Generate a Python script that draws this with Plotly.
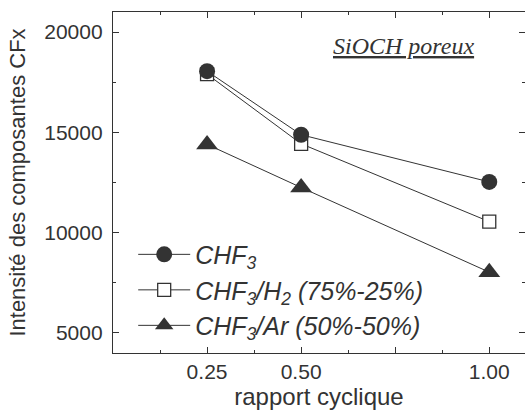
import plotly.graph_objects as go

# duty cycle (x) and CFx intensity for each gas mixture
rapport = [0.25, 0.50, 1.00]
chf3 = [18050, 14880, 12530]
chf3_h2 = [17900, 14430, 10550]
chf3_ar = [14400, 12250, 8030]

names = ["<i>CHF<sub>3</sub></i>",
         "<i>CHF<sub>3</sub>/H<sub>2</sub> (75%-25%)</i>",
         "<i>CHF<sub>3</sub>/Ar (50%-50%)</i>"]

ink = "#333333"
font = "Liberation Sans, Arial, sans-serif"

fig = go.Figure()

# drawn so the circles end up on top of the squares
series = [
    (chf3_h2, names[1], 2, dict(symbol="square", size=13, color="white",
                                line=dict(color=ink, width=1.3))),
    (chf3_ar, names[2], 3, dict(symbol="triangle-up", size=19, color=ink, line=dict(width=0))),
    (chf3, names[0], 1, dict(symbol="circle", size=16, color=ink, line=dict(width=0))),
]
for ys, name, rank, mk in series:
    fig.add_trace(go.Scatter(x=rapport, y=ys, name=name, mode="lines+markers",
                             legendrank=rank,
                             line=dict(color=ink, width=1), marker=mk))

axis_common = dict(showline=True, linecolor=ink, linewidth=1.3, mirror="ticks",
                   ticks="inside", ticklen=6, tickcolor=ink, showgrid=False,
                   zeroline=False, tickfont=dict(size=21, color=ink, family=font))

fig.update_layout(
    width=525, height=415,
    margin=dict(l=113, r=0, t=12, b=62),
    plot_bgcolor="white", paper_bgcolor="white",
    font=dict(family=font, color=ink),
    xaxis=dict(range=[0, 1.095], tickvals=[0.25, 0.5, 0.75, 1.0],
               ticktext=["0.25", "0.50", "", "1.00"],
               minor=dict(tickmode="array", tickvals=[0.125, 0.375, 0.625, 0.875],
                          ticks="inside", ticklen=3, tickcolor=ink),
               title=dict(text="rapport cyclique", font=dict(size=24, color=ink), standoff=2),
               **axis_common),
    yaxis=dict(range=[4000, 21000], tick0=0, dtick=5000, tickformat="d",
               ticklabelstandoff=5,
               minor=dict(dtick=2500, ticks="inside", ticklen=3, tickcolor=ink),
               title=dict(text="Intensité des composantes CFx",
                          font=dict(size=22, color=ink), standoff=12),
               **axis_common),
    legend=dict(x=0.049, y=0.356, xanchor="left", yanchor="top", itemwidth=52,
                bgcolor="rgba(0,0,0,0)", font=dict(size=25, color=ink, family=font),
                tracegroupgap=0),
    showlegend=True,
)

fig.add_annotation(x=0.705, y=0.9, xref="paper", yref="paper",
                   xanchor="center", yanchor="middle",
                   text="<u><i>SiOCH poreux</i></u>", showarrow=False,
                   font=dict(family="Liberation Serif, Times New Roman, serif",
                             size=24, color=ink))

fig.write_html("out.html", config={"displayModeBar": False},
               post_script="document.body.style.margin='0';")
